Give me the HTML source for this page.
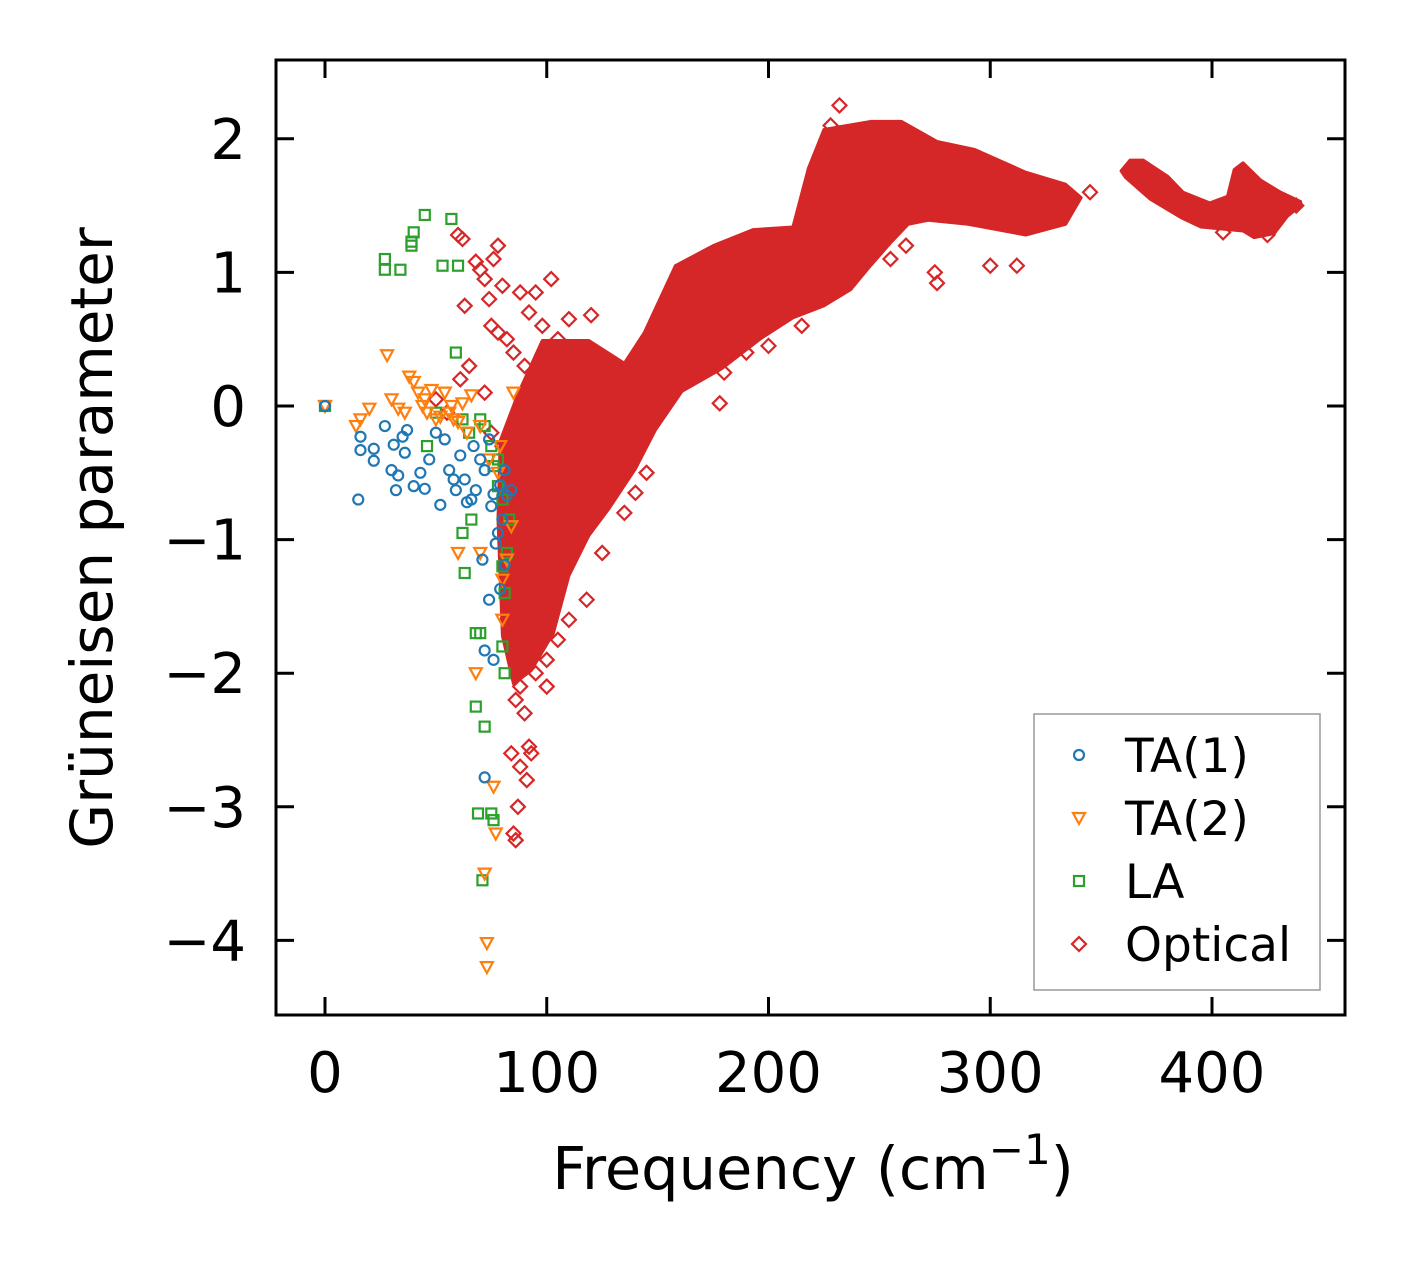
<!DOCTYPE html>
<html><head><meta charset="utf-8"><style>
body{margin:0;background:#fff}
svg text{font-family:"DejaVu Sans","Liberation Sans",sans-serif;fill:#000}
</style></head><body>
<svg id="chart" width="1406" height="1264" xmlns="http://www.w3.org/2000/svg">
<rect width="1406" height="1264" fill="#fff"/>
<g id="marks"></g>
<g id="axes"></g>
</svg>
<script>
const xTicks=[0,100,200,300,400];
const yTicks=[-4,-3,-2,-1,0,1,2];
const ta1=[[0,0],[15,-0.7],[16,-0.23],[16,-0.33],[22,-0.32],[22,-0.41],[27,-0.15],[30,-0.48],[31,-0.29],[32,-0.63],[33,-0.52],[35,-0.23],[36,-0.35],[37,-0.18],[43,-0.5],[45,-0.62],[47,-0.4],[52,-0.74],[54,-0.25],[56,-0.48],[59,-0.63],[61,-0.37],[63,-0.55],[66,-0.7],[68,-0.63],[70,-0.4],[72,-0.48],[74,-0.25],[76,-0.66],[79,-0.59],[81,-0.48],[82,-0.67],[84,-0.63],[71,-1.15],[72,-1.83],[72,-2.78],[76,-1.9],[77,-1.03],[74,-1.45],[79,-1.37],[81,-1.19],[50,-0.2],[40,-0.6],[58,-0.55],[64,-0.72],[67,-0.3],[75,-0.75],[78,-0.95],[80,-0.85]];
const ta2=[[0,0],[14,-0.15],[16,-0.1],[20,-0.02],[28,0.38],[30,0.05],[33,-0.02],[36,-0.05],[38,0.22],[40,0.18],[42,0.1],[44,0.0],[46,-0.05],[48,0.12],[50,-0.1],[52,-0.08],[54,0.1],[56,-0.05],[58,-0.1],[60,-1.1],[60,-0.12],[62,0.02],[64,-0.2],[66,0.08],[68,-2.0],[70,-1.1],[72,-3.5],[73,-4.02],[73,-4.2],[74,-0.4],[76,-2.85],[77,-3.2],[78,-0.5],[80,-1.6],[80,-1.3],[82,-1.15],[84,-0.9],[85,0.1],[79,-0.3],[70,-0.15],[57,0.0],[45,0.05]];
const la=[[0,0],[27,1.1],[27,1.02],[34,1.02],[39,1.2],[39,1.23],[40,1.3],[45,1.43],[53,1.05],[57,1.4],[60,1.05],[59,0.4],[50,-0.05],[46,-0.3],[62,-0.1],[65,-0.2],[70,-0.1],[72,-0.15],[75,-0.3],[78,-0.4],[80,-0.7],[62,-0.95],[63,-1.25],[66,-0.85],[68,-1.7],[70,-1.7],[72,-2.4],[68,-2.25],[69,-3.05],[71,-3.55],[75,-3.05],[76,-3.1],[80,-1.2],[81,-1.4],[80,-1.8],[81,-2.0],[82,-1.1],[83,-0.85],[78,-0.6],[76,-0.45]];
const optical=[[50,0.05],[55,-0.05],[60,1.28],[62,1.25],[61,0.2],[63,0.75],[65,0.3],[68,1.08],[70,1.02],[72,0.95],[74,0.8],[75,0.6],[76,1.1],[78,1.2],[78,0.55],[80,0.9],[82,0.5],[85,0.4],[88,0.85],[90,0.3],[92,0.7],[95,0.85],[98,0.6],[102,0.95],[105,0.5],[110,0.65],[120,0.68],[72,0.1],[75,-0.2],[80,-0.3],[88,-2.1],[86,-2.2],[90,-2.3],[92,-2.55],[93,-2.6],[91,-2.8],[88,-2.7],[87,-3.0],[85,-3.2],[86,-3.25],[84,-2.6],[95,-2.0],[100,-1.9],[105,-1.75],[110,-1.6],[118,-1.45],[125,-1.1],[135,-0.8],[140,-0.65],[145,-0.5],[170,0.3],[180,0.25],[178,0.02],[190,0.4],[200,0.45],[215,0.6],[232,2.25],[228,2.1],[255,1.1],[262,1.2],[275,1.0],[276,0.92],[300,1.05],[312,1.05],[330,1.4],[345,1.6],[405,1.3],[425,1.28],[438,1.5],[100,-2.1],[98,-1.7],[82,-1.6]];
const opticalBand1=[[87,0.09],[98,0.49],[119,0.49],[135,0.32],[144,0.55],[158,1.05],[175,1.2],[193,1.32],[211,1.34],[218,1.78],[225,2.07],[246,2.13],[260,2.13],[276,1.98],[293,1.92],[316,1.75],[334,1.66],[341,1.56],[334,1.36],[316,1.28],[290,1.36],[272,1.39],[263,1.36],[255,1.22],[246,1.05],[237,0.87],[225,0.75],[211,0.66],[197,0.51],[179,0.28],[161,0.11],[149,-0.18],[140,-0.47],[128,-0.77],[119,-0.97],[110,-1.27],[103,-1.7],[93,-1.98],[85,-2.08],[80,-1.72],[78,-0.85],[79,-0.26]];
const opticalBand2=[[359,1.76],[363,1.84],[369,1.84],[380,1.72],[387,1.6],[399,1.52],[407,1.57],[410,1.77],[414,1.82],[422,1.69],[431,1.6],[440,1.53],[440,1.5],[434,1.42],[428,1.29],[419,1.26],[414,1.31],[395,1.34],[386,1.41],[372,1.55],[361,1.71]];

const L=276,R=1345,T=60,B=1015;
const X=v=>325+v*2.2175;
const Y=v=>406-v*133.6;
const NS='http://www.w3.org/2000/svg';
const marks=document.getElementById('marks'),axes=document.getElementById('axes');
function mk(tag,attrs,parent){const e=document.createElementNS(NS,tag);for(const k in attrs)e.setAttribute(k,attrs[k]);parent.appendChild(e);return e;}
const C={ta1:'#1f77b4',ta2:'#ff7f0e',la:'#2ca02c',op:'#d62728'};
function marker(kind,cx,cy,parent){
  let e;
  if(kind==='ta1')e=mk('circle',{cx:cx,cy:cy,r:5,fill:'none',stroke:C.ta1,'stroke-width':2.2},parent);
  else if(kind==='ta2')e=mk('polygon',{points:`${cx-6},${cy-5} ${cx+6},${cy-5} ${cx},${cy+6}`,fill:'none',stroke:C.ta2,'stroke-width':2.2},parent);
  else if(kind==='la')e=mk('rect',{x:cx-5,y:cy-5,width:10,height:10,fill:'none',stroke:C.la,'stroke-width':2.2},parent);
  else e=mk('polygon',{points:`${cx},${cy-7} ${cx+7},${cy} ${cx},${cy+7} ${cx-7},${cy}`,fill:'none',stroke:C.op,'stroke-width':2.2},parent);
  return e;
}
function band(arr){
  const p=mk('polygon',{points:arr.map(d=>X(d[0])+','+Y(d[1])).join(' '),fill:C.op,stroke:C.op,'stroke-width':3,'stroke-linejoin':'round'},marks);
  
  
}
band(opticalBand1);band(opticalBand2);
optical.forEach(d=>{const e=marker('op',X(d[0]),Y(d[1]),marks);

});
la.forEach(d=>{const e=marker('la',X(d[0]),Y(d[1]),marks);

});
ta2.forEach(d=>{const e=marker('ta2',X(d[0]),Y(d[1]),marks);

});
ta1.forEach(d=>{const e=marker('ta1',X(d[0]),Y(d[1]),marks);

});

const fr=mk('rect',{x:L,y:T,width:R-L,height:B-T,fill:'none',stroke:'#000','stroke-width':3},axes);


xTicks.forEach(v=>{const x=X(v);
mk('line',{x1:x,x2:x,y1:B,y2:B-18,stroke:'#000','stroke-width':3},axes);
mk('line',{x1:x,x2:x,y1:T,y2:T+18,stroke:'#000','stroke-width':3},axes);
const t=mk('text',{x:x,y:1092,'text-anchor':'middle','font-size':56},axes);t.textContent=v;

});
yTicks.forEach(v=>{const y=Y(v);
mk('line',{x1:L,x2:L+18,y1:y,y2:y,stroke:'#000','stroke-width':3},axes);
mk('line',{x1:R,x2:R-18,y1:y,y2:y,stroke:'#000','stroke-width':3},axes);
const t=mk('text',{x:246,y:y+20,'text-anchor':'end','font-size':56},axes);t.textContent=v<0?'\u2212'+Math.abs(v):String(v);

});
const xl=mk('text',{x:813,y:1189,'text-anchor':'middle','font-size':59},axes);
xl.innerHTML='Frequency (cm<tspan dy="-25" font-size="42">\u22121</tspan><tspan dy="25">)</tspan>';


const yl=mk('text',{x:0,y:0,'text-anchor':'middle','font-size':58,transform:'translate(112,538) rotate(-90)'},axes);
yl.textContent='Grüneisen parameter';


const lg=mk('g',{},axes);


mk('rect',{x:1034,y:714,width:286,height:276,fill:'#fff',stroke:'#999','stroke-width':1.5},lg);
const legendLabels=['TA(1)','TA(2)','LA','Optical'];
const legendKinds=['ta1','ta2','la','op'];
legendLabels.forEach((s,i)=>{const y=755+i*63;
const m=marker(legendKinds[i],1079,y,lg);


const t=mk('text',{x:1125,y:y+17,'font-size':47},lg);t.textContent=s;

});
</script>
</body></html>
